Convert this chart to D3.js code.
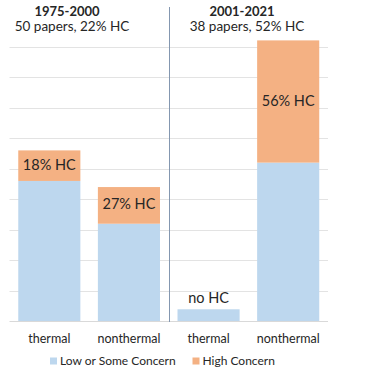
<!DOCTYPE html>
<html>
<head>
<meta charset="utf-8">
<script src="https://cdn.jsdelivr.net/npm/d3@7"></script>
<style>
  body { margin: 0; background: #fff; }
  text { font-family: Lato, "Liberation Sans", sans-serif; fill: #262626; }
</style>
</head>
<body>
<div id="chart"></div>
<script>
// data (number of papers)
var bars = ['1975-2000 thermal', '1975-2000 nonthermal', '2001-2021 thermal', '2001-2021 nonthermal'];
var barLabels = ['thermal', 'nonthermal', 'thermal', 'nonthermal'];
var lowConcern = [23, 16, 2, 26];
var highConcern = [5, 6, 0, 20];
var hcLabels = ['18% HC', '27% HC', 'no HC', '56% HC'];
var periods = ['1975-2000', '2001-2021'];
var periodNotes = ['50 papers, 22% HC', '38 papers, 52% HC'];
var seriesNames = ['Low or Some Concern', 'High Concern'];
var yTicks = [5, 10, 15, 20, 25, 30, 35, 40, 45];

var width = 370, height = 370;
var colors = ['#bdd7ee', '#f4b183'];

var svg = d3.select('#chart').append('svg')
    .attr('width', width)
    .attr('height', height);

var x = d3.scaleBand().domain(bars).range([9.5, 328]).paddingInner(0.22).paddingOuter(0.11);
var y = d3.scaleLinear().domain([0, 45]).range([321.5, 46.5]);

// gridlines
svg.append('g').selectAll('line')
    .data(yTicks)
    .enter().append('line')
    .attr('x1', 9.5).attr('x2', 328)
    .attr('y1', function(d) { return Math.round(y(d)) + 0.5; })
    .attr('y2', function(d) { return Math.round(y(d)) + 0.5; })
    .attr('stroke', '#e3e3e3')
    .attr('stroke-width', 1);

// stacked bars
var rows = bars.map(function(b, i) {
    return { bar: b, low: lowConcern[i], high: highConcern[i] };
});
var stack = d3.stack().keys(['low', 'high'])(rows);

svg.append('g').selectAll('g')
    .data(stack)
    .enter().append('g')
    .attr('fill', function(d, i) { return colors[i]; })
    .selectAll('rect')
    .data(function(d) { return d; })
    .enter().append('rect')
    .attr('x', function(d) { return x(d.data.bar); })
    .attr('width', x.bandwidth())
    .attr('y', function(d) { return y(d[1]); })
    .attr('height', function(d) { return y(d[0]) - y(d[1]); });

// baseline
svg.append('line')
    .attr('x1', 9.5).attr('x2', 328)
    .attr('y1', 321.5).attr('y2', 321.5)
    .attr('stroke', '#d9d9d9');

// divider between periods
svg.append('line')
    .attr('x1', 169.5).attr('x2', 169.5)
    .attr('y1', 7).attr('y2', 322)
    .attr('stroke', '#8497b0')
    .attr('stroke-width', 1);

// HC labels: inside the orange part, or above the bar when there is none
svg.append('g').selectAll('text')
    .data(rows)
    .enter().append('text')
    .attr('x', function(d) { return x(d.bar) + x.bandwidth() / 2; })
    .attr('y', function(d) {
        if (d.high > 0) return (y(d.low) + y(d.low + d.high)) / 2 - 1;
        return y(d.low) - 11;
    })
    .attr('dy', '0.35em')
    .attr('text-anchor', 'middle')
    .style('font-size', '14.5px')
    .text(function(d, i) { return hcLabels[i]; });

// category labels
svg.append('g').selectAll('text')
    .data(bars)
    .enter().append('text')
    .attr('x', function(d) { return x(d) + x.bandwidth() / 2; })
    .attr('y', 338.5)
    .attr('dy', '0.35em')
    .attr('text-anchor', 'middle')
    .style('font-size', '12.5px')
    .text(function(d, i) { return barLabels[i]; });

// period headers
var headerX = [70, 245];
periods.forEach(function(p, i) {
    svg.append('text')
        .attr('x', headerX[i] - 3)
        .attr('y', 11.5)
        .attr('dy', '0.35em')
        .attr('text-anchor', 'middle')
        .style('font-size', '13px')
        .style('font-weight', 'bold')
        .text(p);
    svg.append('text')
        .attr('x', headerX[i] + 2)
        .attr('y', 26.5)
        .attr('dy', '0.35em')
        .attr('text-anchor', 'middle')
        .style('font-size', '13.5px')
        .text(periodNotes[i]);
});

// legend
var legendX = [50, 192.5];
var legend = svg.append('g').selectAll('g')
    .data(seriesNames)
    .enter().append('g')
    .attr('transform', function(d, i) { return 'translate(' + legendX[i] + ',361)'; });
legend.append('rect')
    .attr('x', 0).attr('y', -3.5)
    .attr('width', 7).attr('height', 7)
    .attr('fill', function(d, i) { return colors[i]; });
legend.append('text')
    .attr('x', 10)
    .attr('dy', '0.35em')
    .style('font-size', '12px')
    .text(function(d) { return d; });
</script>
</body>
</html>
